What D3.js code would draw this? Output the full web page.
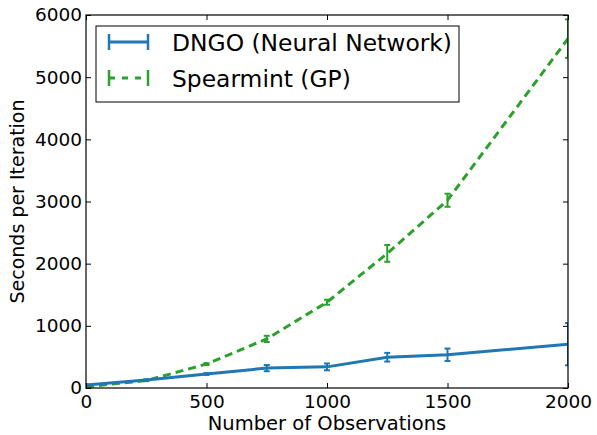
<!DOCTYPE html>
<html>
<head>
<meta charset="utf-8">
<script src="https://cdn.jsdelivr.net/npm/d3@7"></script>
<style>
  body { margin: 0; background: #fff; }
  svg text { font-family: "DejaVu Sans", sans-serif; fill: #000; }
</style>
</head>
<body>
<svg width="597" height="435"></svg>
<script>
// values
var dngoX   = [0, 250, 500, 750, 1000, 1250, 1500, 2000];
var dngoY   = [50, 130, 225, 320, 340, 495, 535, 705];
var dngoErr = [10, 10, 15, 50, 55, 70, 100, 340];

var gpX   = [0, 250, 500, 750, 1000, 1250, 1500, 2000];
var gpY   = [20, 120, 385, 790, 1380, 2165, 3020, 5620];
var gpErr = [5, 10, 15, 50, 40, 135, 105, 310];

var xTicks = [0, 500, 1000, 1500, 2000];
var yTicks = [0, 1000, 2000, 3000, 4000, 5000, 6000];

var svg = d3.select("svg"),
    margin = {top: 15, right: 29, bottom: 47, left: 86},
    width = +svg.attr("width") - margin.left - margin.right,
    height = +svg.attr("height") - margin.top - margin.bottom,
    g = svg.append("g").attr("transform", "translate(" + margin.left + "," + margin.top + ")");

var x = d3.scaleLinear().domain([0, 2000]).range([0, width]);
var y = d3.scaleLinear().domain([0, 6000]).range([height, 0]);

var blue = "#1f77b4", green = "#2ca02c";

// clip so the line/err bars stay in the axes box
svg.append("defs").append("clipPath").attr("id", "clip")
  .append("rect").attr("width", width).attr("height", height);

var plot = g.append("g").attr("clip-path", "url(#clip)");

var line = d3.line()
  .x(function(d) { return x(d[0]); })
  .y(function(d) { return y(d[1]); });

function drawSeries(xs, ys, errs, color, dash) {
  var pts = xs.map(function(v, i) { return [v, ys[i], errs[i]]; });
  plot.append("path")
    .datum(pts)
    .attr("d", line)
    .attr("fill", "none")
    .attr("stroke", color)
    .attr("stroke-width", 3)
    .attr("stroke-dasharray", dash);

  var eb = plot.append("g").selectAll("g").data(pts).enter().append("g")
    .attr("stroke", color).attr("stroke-width", 2);
  eb.append("line")
    .attr("x1", function(d) { return x(d[0]); })
    .attr("x2", function(d) { return x(d[0]); })
    .attr("y1", function(d) { return y(d[1] - d[2]); })
    .attr("y2", function(d) { return y(d[1] + d[2]); });
  [-1, 1].forEach(function(s) {
    eb.append("line")
      .attr("x1", function(d) { return x(d[0]) - 3; })
      .attr("x2", function(d) { return x(d[0]) + 3; })
      .attr("y1", function(d) { return y(d[1] + s * d[2]); })
      .attr("y2", function(d) { return y(d[1] + s * d[2]); });
  });
}

drawSeries(gpX, gpY, gpErr, green, "8,5");
drawSeries(dngoX, dngoY, dngoErr, blue, null);

// axes, ticks pointing inward on all four sides
var tk = 5, fmt = d3.format("d");
g.append("g").attr("transform", "translate(0," + height + ")")
  .call(d3.axisBottom(x).tickValues(xTicks).tickFormat(fmt).tickSizeInner(-tk).tickSizeOuter(0).tickPadding(7))
  .call(function(a) { a.select(".domain").remove(); a.selectAll("text").attr("font-size", 18.5); });
g.append("g")
  .call(d3.axisTop(x).tickValues(xTicks).tickSizeInner(-tk).tickSizeOuter(0).tickFormat(""))
  .call(function(a) { a.select(".domain").remove(); });
g.append("g")
  .call(d3.axisLeft(y).tickValues(yTicks).tickFormat(fmt).tickSizeInner(-tk).tickSizeOuter(0).tickPadding(4))
  .call(function(a) { a.select(".domain").remove(); a.selectAll("text").attr("font-size", 18.5); });
g.append("g").attr("transform", "translate(" + width + ",0)")
  .call(d3.axisRight(y).tickValues(yTicks).tickSizeInner(-tk).tickSizeOuter(0).tickFormat(""))
  .call(function(a) { a.select(".domain").remove(); });
g.selectAll(".tick line").attr("stroke", "#000");

g.append("rect")
  .attr("width", width).attr("height", height)
  .attr("fill", "none").attr("stroke", "#000").attr("stroke-width", 1.2);

// axis titles
svg.append("text")
  .attr("x", margin.left + width / 2).attr("y", 430)
  .attr("text-anchor", "middle").attr("font-size", 19.5)
  .text("Number of Observations");
svg.append("text")
  .attr("transform", "translate(24," + (margin.top + height / 2) + ") rotate(-90)")
  .attr("text-anchor", "middle").attr("font-size", 19)
  .text("Seconds per Iteration");

// legend
var names = ["DNGO (Neural Network)", "Spearmint (GP)"];
var cols = [blue, green], dashes = [null, "6,7"];
var lg = svg.append("g").attr("transform", "translate(96,26)");
lg.append("rect").attr("width", 363).attr("height", 76)
  .attr("fill", "#fff").attr("stroke", "#000").attr("stroke-width", 1);
names.forEach(function(n, i) {
  var yy = 16 + i * 36;
  var it = lg.append("g").attr("stroke", cols[i]);
  it.append("line").attr("x1", 13).attr("x2", 52).attr("y1", yy).attr("y2", yy)
    .attr("stroke-width", 3).attr("stroke-dasharray", dashes[i]);
  [13, 52].forEach(function(cx) {
    it.append("line").attr("x1", cx).attr("x2", cx).attr("y1", yy - 8).attr("y2", yy + 8)
      .attr("stroke-width", 2.5);
  });
  lg.append("text").attr("x", 76).attr("y", yy + 9).attr("font-size", 23.4).text(n);
});
</script>
</body>
</html>
